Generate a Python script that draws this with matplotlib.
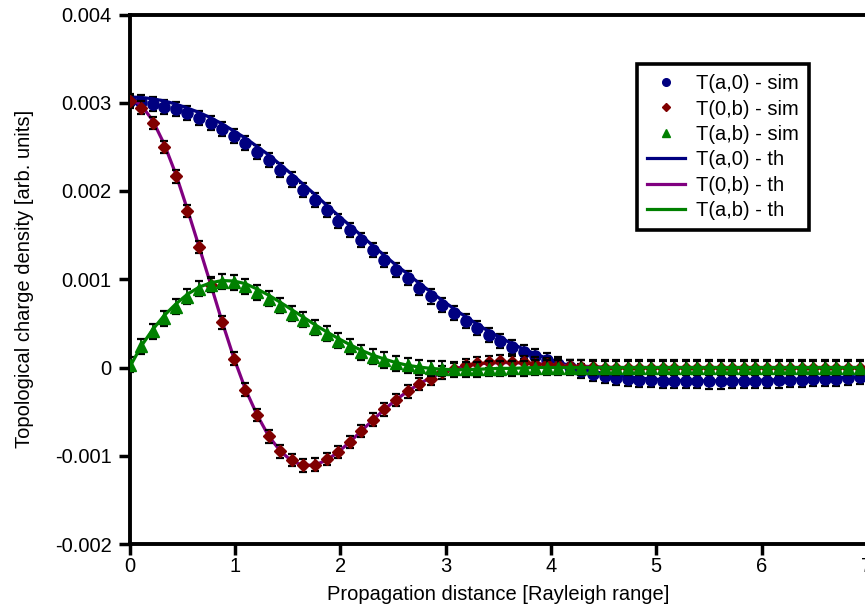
import numpy as np
import matplotlib
matplotlib.use("Agg")
import matplotlib.pyplot as plt
from matplotlib.lines import Line2D
from matplotlib.ticker import FuncFormatter

# Propagation distance in Rayleigh ranges (sampling grid of the simulation)
z = [0.00, 0.11, 0.22, 0.33, 0.44, 0.55, 0.66, 0.77, 0.88, 0.99,
     1.10, 1.21, 1.32, 1.43, 1.54, 1.65, 1.76, 1.87, 1.98, 2.09,
     2.20, 2.31, 2.42, 2.53, 2.64, 2.75, 2.86, 2.97, 3.08, 3.19,
     3.30, 3.41, 3.52, 3.63, 3.74, 3.85, 3.96, 4.07, 4.18, 4.29,
     4.40, 4.51, 4.62, 4.73, 4.84, 4.95, 5.06, 5.17, 5.28, 5.39,
     5.50, 5.61, 5.72, 5.83, 5.94, 6.05, 6.16, 6.27, 6.38, 6.49,
     6.60, 6.71, 6.82, 6.93]

# simulated topological charge density, in units of 1e-3
sim_a0 = [3.02, 3.01, 2.99, 2.955, 2.925, 2.88, 2.83, 2.77, 2.70, 2.62,
          2.54, 2.445, 2.35, 2.24, 2.13, 2.015, 1.90, 1.78, 1.665, 1.555,
          1.44, 1.33, 1.22, 1.105, 1.01, 0.905, 0.805, 0.71, 0.62, 0.527,
          0.444, 0.368, 0.304, 0.236, 0.18, 0.13, 0.085, 0.04, 0.002, -0.036,
          -0.074, -0.096, -0.115, -0.13, -0.14, -0.145, -0.15, -0.152, -0.155, -0.157,
          -0.158, -0.158, -0.157, -0.155, -0.153, -0.15, -0.147, -0.143, -0.14, -0.135,
          -0.13, -0.125, -0.118, -0.11]
sim_0b = [3.02, 2.945, 2.77, 2.50, 2.165, 1.77, 1.365, 0.94, 0.51, 0.10,
          -0.25, -0.54, -0.78, -0.95, -1.05, -1.11, -1.10, -1.04, -0.955, -0.845,
          -0.72, -0.59, -0.475, -0.37, -0.27, -0.19, -0.13, -0.055, -0.02, 0.03,
          0.05, 0.065, 0.07, 0.065, 0.06, 0.045, 0.035, 0.025, 0.02, 0.01,
          0.005, 0.0, 0.0, 0.0, 0.0, 0.0, 0.0, 0.0, 0.0, 0.0,
          0.0, 0.0, 0.0, 0.0, 0.0, 0.0, 0.0, 0.0, 0.0, 0.0,
          0.0, 0.0, 0.0, 0.0]
sim_ab = [0.03, 0.24, 0.41, 0.56, 0.69, 0.80, 0.89, 0.94, 0.97, 0.965,
          0.92, 0.85, 0.78, 0.70, 0.61, 0.54, 0.45, 0.38, 0.305, 0.24,
          0.17, 0.12, 0.085, 0.05, 0.025, 0.005, -0.01, -0.015, -0.02, -0.02,
          -0.02, -0.015, -0.015, -0.01, -0.01, -0.005, 0.0, 0.0, 0.0, 0.0,
          0.0, 0.0, 0.0, 0.0, 0.0, 0.0, 0.0, 0.0, 0.0, 0.0,
          0.0, 0.0, 0.0, 0.0, 0.0, 0.0, 0.0, 0.0, 0.0, 0.0,
          0.0, 0.0, 0.0, 0.0]

# error bar half widths (1e-3)
err_a0 = 0.08
err_0b = 0.07
err_ab = 0.085

# analytic curves (1e-3)
th_a0 = [3.065, 3.06, 3.045, 3.02, 2.985, 2.94, 2.89, 2.83, 2.76, 2.68,
         2.60, 2.505, 2.41, 2.30, 2.19, 2.075, 1.96, 1.84, 1.725, 1.61,
         1.495, 1.38, 1.27, 1.16, 1.06, 0.955, 0.855, 0.76, 0.665, 0.575,
         0.49, 0.41, 0.34, 0.27, 0.21, 0.155, 0.105, 0.06, 0.02, -0.015,
         -0.045, -0.07, -0.09, -0.105, -0.12, -0.13, -0.138, -0.144, -0.148, -0.15,
         -0.151, -0.151, -0.15, -0.148, -0.145, -0.142, -0.138, -0.134, -0.13, -0.125,
         -0.12, -0.115, -0.11, -0.105]
th_0b = [3.055, 2.975, 2.80, 2.53, 2.19, 1.79, 1.37, 0.945, 0.515, 0.11,
         -0.245, -0.535, -0.775, -0.945, -1.06, -1.11, -1.105, -1.05, -0.96, -0.845,
         -0.72, -0.595, -0.475, -0.365, -0.27, -0.185, -0.115, -0.06, -0.015, 0.015,
         0.04, 0.05, 0.055, 0.055, 0.05, 0.045, 0.035, 0.03, 0.02, 0.015,
         0.01, 0.005, 0.0, 0.0, 0.0, 0.0, 0.0, 0.0, 0.0, 0.0,
         0.0, 0.0, 0.0, 0.0, 0.0, 0.0, 0.0, 0.0, 0.0, 0.0,
         0.0, 0.0, 0.0, 0.0]
th_ab = [0.0, 0.24, 0.43, 0.59, 0.72, 0.83, 0.91, 0.96, 0.985, 0.98,
         0.95, 0.89, 0.82, 0.74, 0.655, 0.57, 0.485, 0.405, 0.33, 0.26,
         0.195, 0.14, 0.095, 0.055, 0.025, 0.005, -0.01, -0.02, -0.025, -0.025,
         -0.02, -0.015, -0.01, -0.01, -0.005, 0.0, 0.0, 0.0, 0.0, 0.0,
         0.0, 0.0, 0.0, 0.0, 0.0, 0.0, 0.0, 0.0, 0.0, 0.0,
         0.0, 0.0, 0.0, 0.0, 0.0, 0.0, 0.0, 0.0, 0.0, 0.0,
         0.0, 0.0, 0.0, 0.0]

labels_sim = ['T(a,0) - sim', 'T(0,b) - sim', 'T(a,b) - sim']
labels_th = ['T(a,0) - th', 'T(0,b) - th', 'T(a,b) - th']

NAVY = '#000080'
DARKRED = '#800000'
PURPLE = '#800080'
GREEN = '#008000'

plt.rcParams['font.family'] = ['Liberation Sans', 'DejaVu Sans']
plt.rcParams['font.size'] = 14.5

scale = 1e-3
z = np.array(z)

fig = plt.figure(figsize=(8.65, 6.08), dpi=100)
ax = fig.add_axes([129.5 / 865, 64 / 608, 737.5 / 865, 529.5 / 608])

eb_kw = dict(ecolor='black', elinewidth=1.2, capsize=3, capthick=1.6, linestyle='none')

ax.errorbar(z, np.array(sim_a0) * scale, yerr=err_a0 * scale, fmt='o', color=NAVY,
            markersize=8, zorder=3, **eb_kw)
ax.plot(z, np.array(th_a0) * scale, color=NAVY, lw=2.3, zorder=4)
ax.plot(z, np.array(th_0b) * scale, color=PURPLE, lw=2.3, zorder=4)
ax.errorbar(z, np.array(sim_0b) * scale, yerr=err_0b * scale, fmt='D', color=DARKRED,
            markersize=6, zorder=5, **eb_kw)
ax.errorbar(z, np.array(sim_ab) * scale, yerr=err_ab * scale, fmt='^', color=GREEN,
            markersize=8, zorder=6, **eb_kw)
ax.plot(z, np.array(th_ab) * scale, color=GREEN, lw=2.3, zorder=7)

ax.set_xlim(0, 7)
ax.set_ylim(-0.002, 0.004)
ax.set_xticks(range(0, 8))
ax.set_yticks([-0.002, -0.001, 0, 0.001, 0.002, 0.003, 0.004])
ax.yaxis.set_major_formatter(FuncFormatter(lambda v, p: f'{round(v, 6):g}'))

for side in ['left', 'bottom', 'top']:
    ax.spines[side].set_linewidth(2.8)
ax.spines['right'].set_visible(False)
ax.tick_params(direction='out', length=8, width=2.5, labelsize=14.5)
ax.tick_params(axis='y', pad=5)
ax.tick_params(axis='x', pad=1)

ax.set_xlabel('Propagation distance [Rayleigh range]', labelpad=7)
ax.set_ylabel('Topological charge density [arb. units]', labelpad=15)

# legend: markers for the simulations, lines for the theory
handles = [
    Line2D([], [], marker='o', ls='none', color=NAVY, markersize=5.5),
    Line2D([], [], marker='D', ls='none', color=DARKRED, markersize=4),
    Line2D([], [], marker='^', ls='none', color=GREEN, markersize=5.5),
    Line2D([], [], color=NAVY, lw=2.3),
    Line2D([], [], color=PURPLE, lw=2.3),
    Line2D([], [], color=GREEN, lw=2.3),
]
leg = ax.legend(handles, labels_sim + labels_th, loc='upper left',
                bbox_to_anchor=(637 / 865, 1 - 64 / 608), bbox_transform=fig.transFigure,
                fancybox=False, framealpha=1, edgecolor='black', borderpad=0.5,
                labelspacing=0.32, handlelength=1.9, handletextpad=0.55, borderaxespad=0)
leg.get_frame().set_linewidth(2.6)

fig.savefig('out.png', dpi=100)
